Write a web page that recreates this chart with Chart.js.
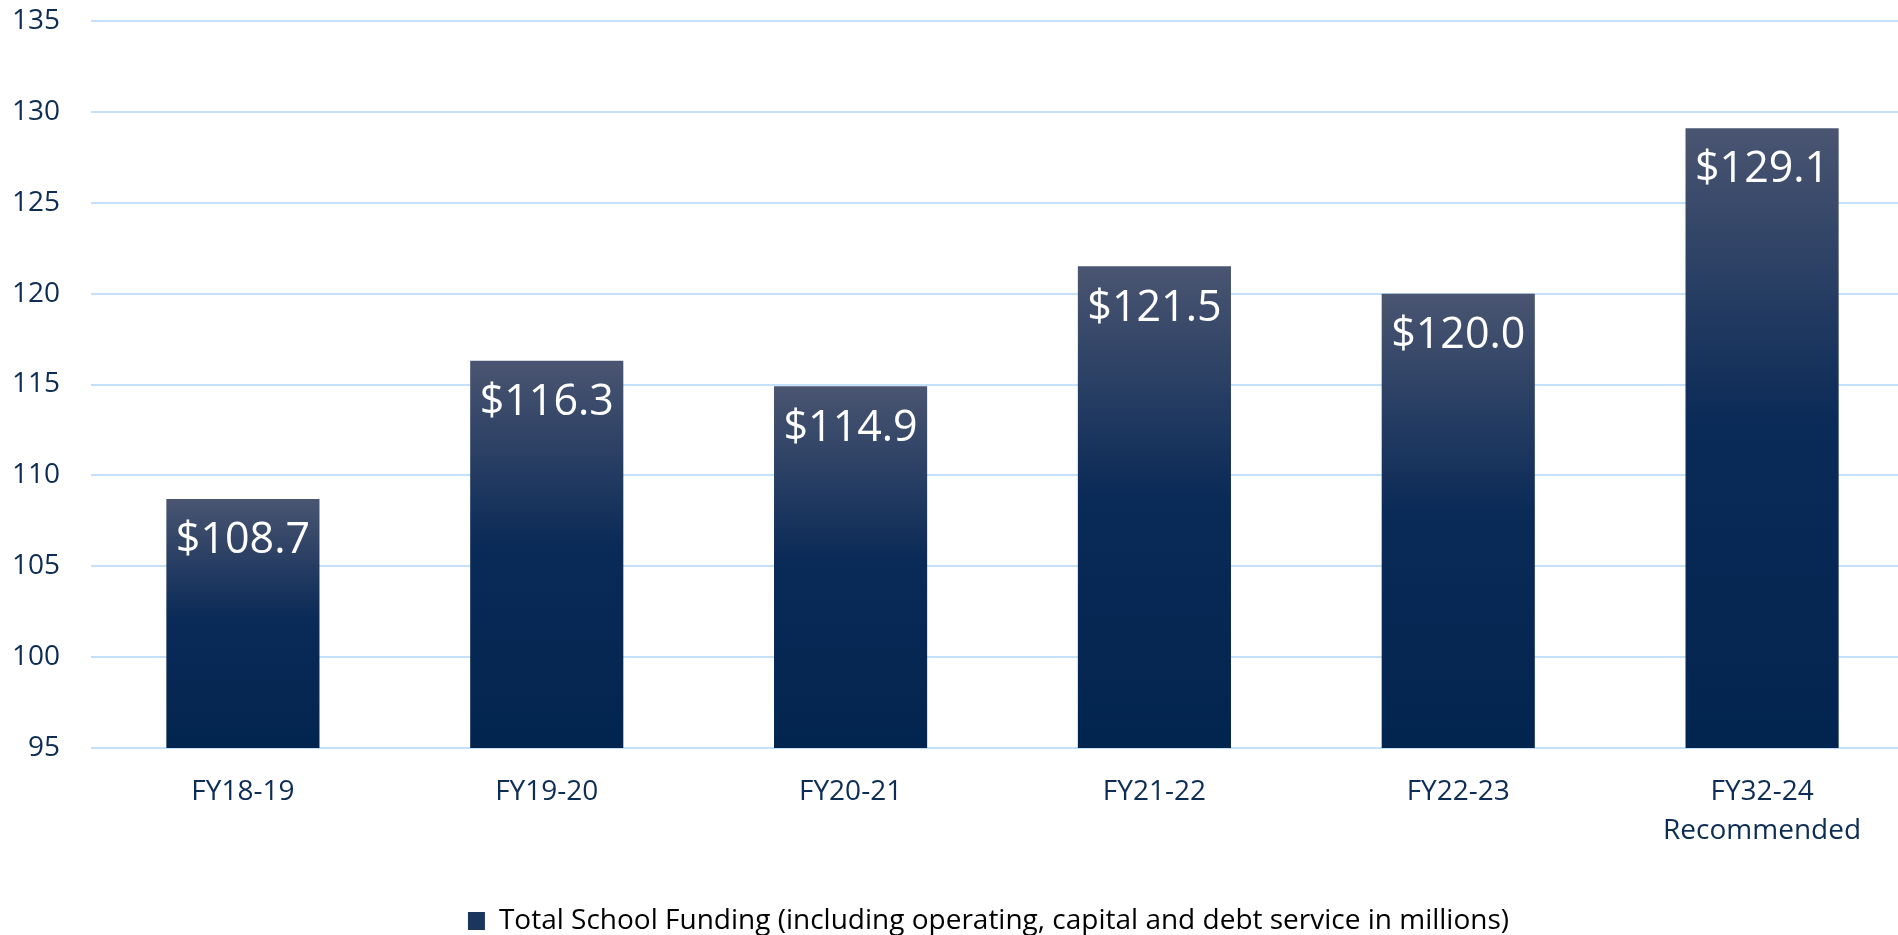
<!DOCTYPE html>
<html>
<head>
<meta charset="utf-8">
<script src="https://cdn.jsdelivr.net/npm/chart.js@4/dist/chart.umd.min.js"></script>
<style>
  html, body { margin: 0; padding: 0; background: #fff; overflow: hidden; }
  #wrap { position: absolute; left: 0; top: 0; width: 1914px; height: 935px; }
</style>
</head>
<body>
<div id="wrap"><canvas id="myChart"></canvas></div>
<script>
const categories = ["FY18-19", "FY19-20", "FY20-21", "FY21-22", "FY22-23", ["FY32-24", "Recommended"]];
const funding = [108.7, 116.3, 114.9, 121.5, 120.0, 129.1];
const seriesLabel = "Total School Funding (including operating, capital and debt service in millions)";
const yMin = 95, yMax = 135, yStep = 5;

const navy = "#0d2d55";
const fontName = "'Open Sans', sans-serif";

function barFill(context) {
    const chart = context.chart;
    if (!chart.chartArea) return "#1c355c";
    const y = chart.scales.y;
    const top = y.getPixelForValue(funding[context.dataIndex]);
    const bottom = y.getPixelForValue(yMin);
    const g = chart.ctx.createLinearGradient(0, top, 0, bottom);
    g.addColorStop(0, "#4a5571");
    g.addColorStop(0.48, "#0a2a57");
    g.addColorStop(1, "#02254f");
    return g;
}

const valueLabels = {
    id: "valueLabels",
    afterDatasetsDraw(chart) {
        const ctx = chart.ctx;
        const meta = chart.getDatasetMeta(0);
        ctx.save();
        ctx.fillStyle = "#ffffff";
        ctx.font = "43px " + fontName;
        ctx.textAlign = "center";
        ctx.textBaseline = "middle";
        meta.data.forEach((bar, i) => {
            ctx.fillText("$" + funding[i].toFixed(1), bar.x, bar.y + 42);
        });
        ctx.restore();
    }
};

// nudge the legend a little left, like the original
const legendShift = {
    id: "legendShift",
    afterLayout(chart) {
        chart.legend.left -= 14;
        chart.legend.right -= 14;
    }
};

const ctx = document.getElementById('myChart').getContext('2d');
const myChart = new Chart(ctx, {
    type: 'bar',
    data: {
        labels: categories,
        datasets: [{
            label: seriesLabel,
            data: funding,
            backgroundColor: barFill,
            borderWidth: 0,
            barPercentage: 0.504,
            categoryPercentage: 1.0
        }]
    },
    plugins: [valueLabels, legendShift],
    options: {
        responsive: true,
        maintainAspectRatio: false,
        animation: false,
        layout: {
            padding: { left: 13, top: 21, right: 0, bottom: -10 }
        },
        scales: {
            y: {
                min: yMin,
                max: yMax,
                border: { display: false },
                grid: { color: "#c5e0fa", lineWidth: 2, drawTicks: false },
                ticks: {
                    stepSize: yStep,
                    color: navy,
                    padding: 31,
                    font: { family: fontName, size: 28 }
                },
                afterFit: (scale) => {
                    scale.width = 78;
                    scale.paddingTop = 0;
                    scale.paddingBottom = 0;
                }
            },
            x: {
                border: { display: false },
                grid: { display: false, drawTicks: false },
                ticks: {
                    color: navy,
                    padding: 25,
                    maxRotation: 0,
                    font: { family: fontName, size: 28, lineHeight: 1.38 }
                },
                afterFit: (scale) => { scale.height = 157; }
            }
        },
        plugins: {
            tooltip: { enabled: false },
            legend: {
                position: 'bottom',
                fullSize: false,
                labels: {
                    color: navy,
                    boxWidth: 17,
                    boxHeight: 18,
                    padding: 2,
                    font: { family: fontName, size: 28 },
                    generateLabels: (chart) => [{
                        text: seriesLabel,
                        fillStyle: "#1c355c",
                        strokeStyle: "#1c355c",
                        lineWidth: 0,
                        datasetIndex: 0
                    }]
                }
            }
        }
    }
});
</script>
</body>
</html>
